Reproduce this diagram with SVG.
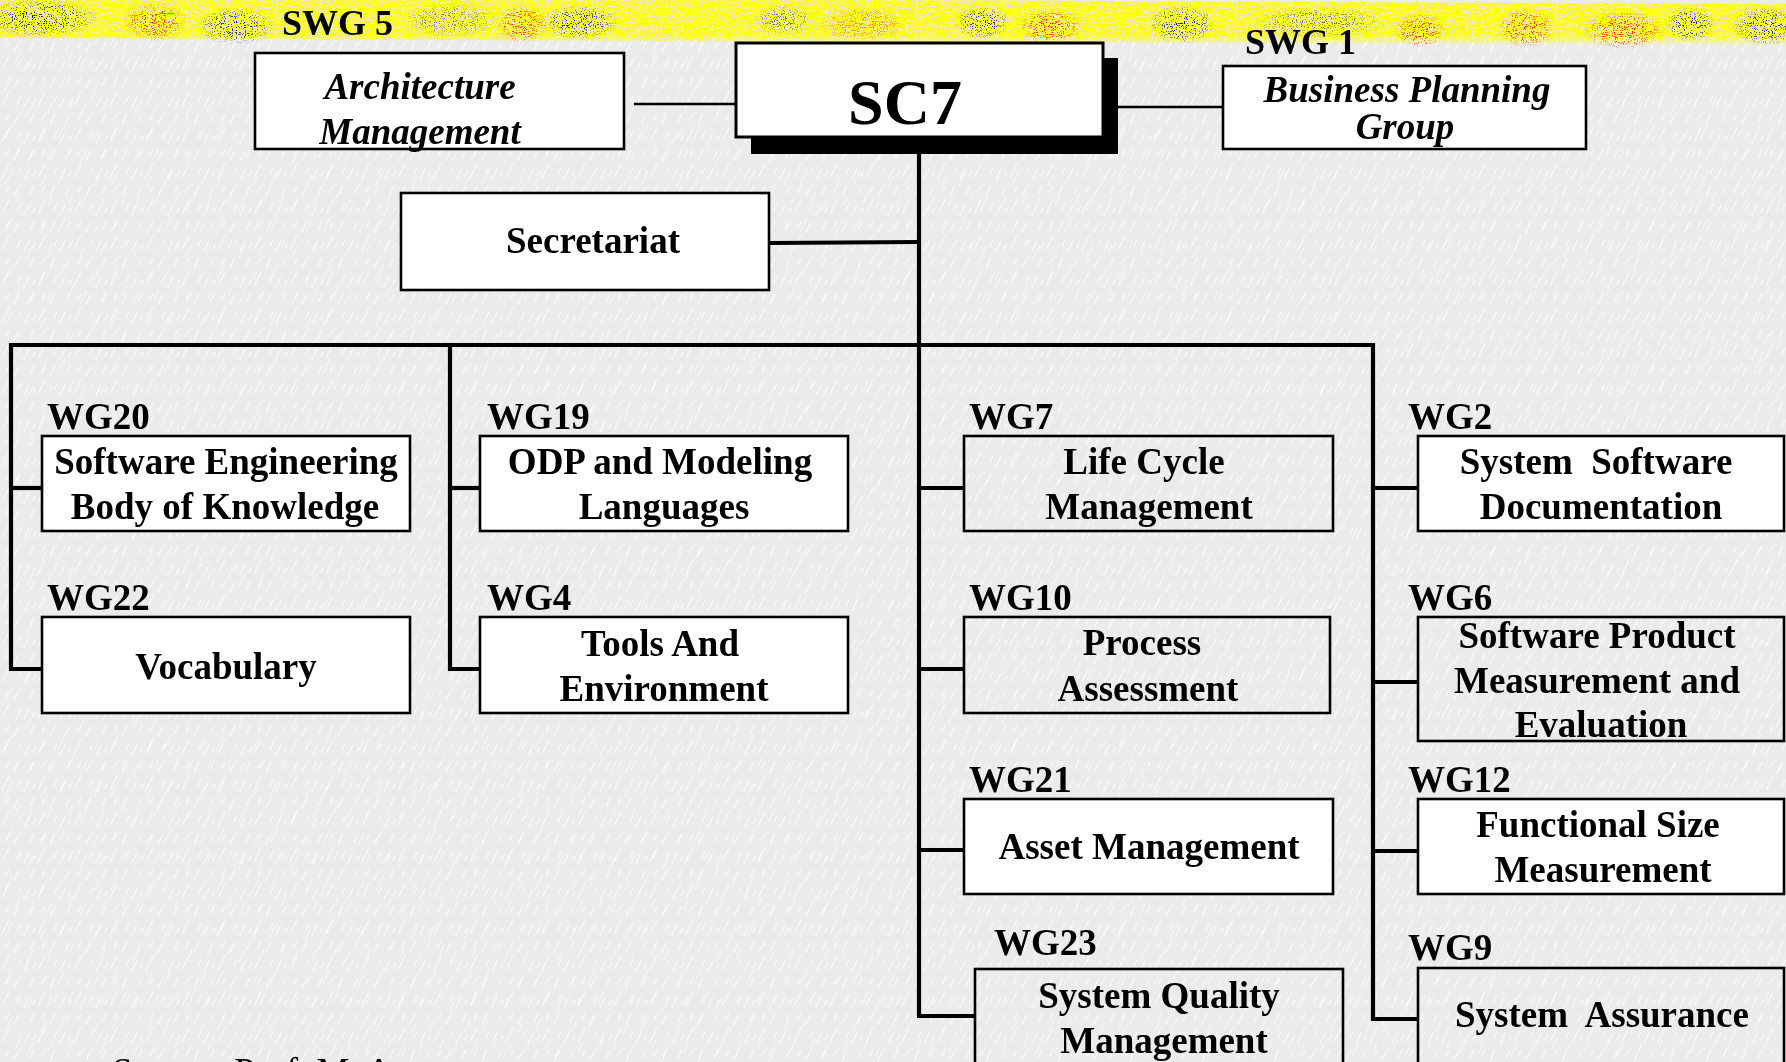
<svg xmlns="http://www.w3.org/2000/svg" width="1786" height="1062" viewBox="0 0 1786 1062">
<defs>
<style>
.box{fill:#fff;stroke:#000;stroke-width:2.6}
.boxc{fill:none;stroke:#000;stroke-width:2.6}
.t{font-family:"Liberation Serif","Times New Roman",serif;font-weight:bold;font-size:37px;fill:#000;text-anchor:middle}
.ti{font-family:"Liberation Serif","Times New Roman",serif;font-weight:bold;font-style:italic;font-size:37px;fill:#000;text-anchor:middle}
.lb{font-family:"Liberation Serif","Times New Roman",serif;font-weight:bold;font-size:37px;fill:#000}
.sw{font-family:"Liberation Serif","Times New Roman",serif;font-weight:bold;font-size:36px;fill:#000}
.pre{white-space:pre}
.c{stroke:#000;stroke-width:4.2;fill:none}
.thin{stroke:#000;stroke-width:2.6;fill:none}
</style>
<pattern id="bgtex" width="36" height="36" patternUnits="userSpaceOnUse">
<rect width="36" height="36" fill="#ebebeb"/>
<path d="M2 34 L9 20 M14 16 L19 6 M24 35 L29 25 M30 14 L34 6 M6 12 L9 6 M18 30 L21 24 M33 32 L35 28" stroke="#fff" stroke-width="1.1" stroke-linecap="round" opacity="0.75"/>
</pattern>
<pattern id="bgtex2" width="53" height="47" patternUnits="userSpaceOnUse">
<path d="M5 44 L12 30 M27 22 L33 10 M41 45 L46 35 M48 18 L52 9 M16 14 L20 5" stroke="#fff" stroke-width="1" stroke-linecap="round" opacity="0.6"/>
</pattern>
<linearGradient id="bandG" x1="0" y1="0" x2="0" y2="1">
<stop offset="0" stop-color="#ffff00" stop-opacity="0.7"/>
<stop offset="0.15" stop-color="#ffff00" stop-opacity="1"/>
<stop offset="0.78" stop-color="#ffff00" stop-opacity="1"/>
<stop offset="1" stop-color="#ffff00" stop-opacity="0"/>
</linearGradient>
<radialGradient id="blueG">
<stop offset="0" stop-color="#0000ff" stop-opacity="1"/>
<stop offset="0.6" stop-color="#0000ff" stop-opacity="0.7"/>
<stop offset="1" stop-color="#0000ff" stop-opacity="0"/>
</radialGradient>
<radialGradient id="redG">
<stop offset="0" stop-color="#ff0000" stop-opacity="1"/>
<stop offset="0.6" stop-color="#ff0000" stop-opacity="0.7"/>
<stop offset="1" stop-color="#ff0000" stop-opacity="0"/>
</radialGradient>
<filter id="grain" x="0" y="0" width="1" height="1">
<feTurbulence type="fractalNoise" baseFrequency="0.8" numOctaves="2" seed="4" result="n"/>
<feColorMatrix in="n" type="matrix" values="0 0 0 0 0  0 0 0 0 0  0 0 0 0 0  8 0 0 0 -2.9" result="m"/>
<feComposite in="SourceGraphic" in2="m" operator="in"/>
</filter>
<filter id="grain2" x="0" y="0" width="1" height="1">
<feTurbulence type="fractalNoise" baseFrequency="0.9" numOctaves="2" seed="11" result="n"/>
<feColorMatrix in="n" type="matrix" values="0 0 0 0 0  0 0 0 0 0  0 0 0 0 0  12 0 0 0 -7" result="m"/>
<feComposite in="SourceGraphic" in2="m" operator="in"/>
</filter>
</defs>

<rect width="1786" height="1062" fill="url(#bgtex)"/>
<rect width="1786" height="1062" fill="url(#bgtex2)"/>

<g id="band">
<path d="M0 -4 L1786 4 L1786 46 L0 38 Z" fill="url(#bandG)" filter="url(#grain)"/>
<g filter="url(#grain2)">
<ellipse cx="40" cy="18" rx="60" ry="20" fill="url(#blueG)"/>
<ellipse cx="155" cy="22" rx="32" ry="20" fill="url(#redG)"/>
<ellipse cx="236" cy="26" rx="40" ry="19" fill="url(#blueG)"/>
<ellipse cx="450" cy="20" rx="50" ry="18" fill="url(#blueG)" opacity="0.6"/>
<ellipse cx="522" cy="24" rx="26" ry="20" fill="url(#redG)"/>
<ellipse cx="580" cy="22" rx="40" ry="18" fill="url(#blueG)"/>
<ellipse cx="784" cy="20" rx="30" ry="16" fill="url(#blueG)" opacity="0.7"/>
<ellipse cx="862" cy="24" rx="46" ry="18" fill="url(#redG)" opacity="0.6"/>
<ellipse cx="982" cy="22" rx="28" ry="17" fill="url(#blueG)"/>
<ellipse cx="1050" cy="26" rx="34" ry="18" fill="url(#redG)"/>
<ellipse cx="1182" cy="24" rx="34" ry="20" fill="url(#blueG)"/>
<ellipse cx="1320" cy="22" rx="70" ry="17" fill="url(#blueG)" opacity="0.6"/>
<ellipse cx="1420" cy="30" rx="26" ry="18" fill="url(#redG)"/>
<ellipse cx="1526" cy="28" rx="30" ry="20" fill="url(#redG)"/>
<ellipse cx="1624" cy="30" rx="42" ry="20" fill="url(#redG)"/>
<ellipse cx="1690" cy="24" rx="26" ry="18" fill="url(#blueG)"/>
<ellipse cx="1765" cy="26" rx="34" ry="20" fill="url(#blueG)"/>
</g>
</g>

<g id="connectors">
<line class="thin" x1="634" y1="104" x2="736" y2="104"/>
<line class="thin" x1="1118" y1="107" x2="1223" y2="107"/>
<line class="c" x1="919" y1="150" x2="919" y2="1016"/>
<line class="c" x1="769" y1="243" x2="919" y2="242" stroke-width="4.6"/>
<line class="c" x1="9" y1="345" x2="1375" y2="345" stroke-width="4.6"/>
<path class="c" d="M11 343 V669 H42"/>
<line class="c" x1="11" y1="488" x2="42" y2="488"/>
<path class="c" d="M450 343 V669 H480"/>
<line class="c" x1="450" y1="488" x2="480" y2="488"/>
<line class="c" x1="917" y1="1016" x2="975" y2="1016"/>
<line class="c" x1="919" y1="488" x2="964" y2="488"/>
<line class="c" x1="919" y1="669" x2="964" y2="669"/>
<line class="c" x1="919" y1="850" x2="964" y2="850"/>
<path class="c" d="M1373 343 V1019 H1418"/>
<line class="c" x1="1373" y1="488" x2="1418" y2="488"/>
<line class="c" x1="1373" y1="682" x2="1418" y2="682"/>
<line class="c" x1="1373" y1="851" x2="1418" y2="851"/>
</g>

<g id="swg5">
<text class="sw" x="282" y="35">SWG 5</text>
<rect class="box" x="255" y="53" width="369" height="96"/>
<text class="ti" x="420" y="99">Architecture</text>
<text class="ti" x="420" y="144">Management</text>
</g>

<g id="sc7">
<rect x="751" y="58" width="367" height="96" fill="#000"/>
<rect x="736" y="43" width="367" height="94" fill="#fff" stroke="#000" stroke-width="3"/>
<text class="t" x="905" y="124" style="font-size:64px">SC7</text>
</g>

<g id="swg1">
<text class="sw" x="1245" y="54">SWG 1</text>
<rect class="box" x="1223" y="66" width="363" height="83"/>
<text class="ti" x="1407" y="102">Business Planning</text>
<text class="ti" x="1405" y="139">Group</text>
</g>

<g id="secretariat">
<rect class="box" x="401" y="193" width="368" height="97"/>
<text class="t" x="593" y="253">Secretariat</text>
</g>

<g id="wg20">
<text class="lb" x="47" y="429">WG20</text>
<rect class="box" x="42" y="436" width="368" height="95"/>
<text class="t" x="226" y="474">Software Engineering</text>
<text class="t" x="225" y="519">Body of Knowledge</text>
</g>

<g id="wg22">
<text class="lb" x="47" y="610">WG22</text>
<rect class="box" x="42" y="617" width="368" height="96"/>
<text class="t" x="226" y="679">Vocabulary</text>
</g>

<g id="wg19">
<text class="lb" x="487" y="429">WG19</text>
<rect class="box" x="480" y="436" width="368" height="95"/>
<text class="t" x="660" y="474">ODP and Modeling</text>
<text class="t" x="664" y="519">Languages</text>
</g>

<g id="wg4">
<text class="lb" x="487" y="610">WG4</text>
<rect class="box" x="480" y="617" width="368" height="96"/>
<text class="t" x="660" y="656">Tools And</text>
<text class="t" x="664" y="701">Environment</text>
</g>

<g id="wg7">
<text class="lb" x="969" y="429">WG7</text>
<rect class="boxc" x="964" y="436" width="369" height="95"/>
<text class="t" x="1144" y="474">Life Cycle</text>
<text class="t" x="1149" y="519">Management</text>
</g>

<g id="wg10">
<text class="lb" x="969" y="610">WG10</text>
<rect class="boxc" x="964" y="617" width="366" height="96"/>
<text class="t" x="1142" y="655">Process</text>
<text class="t" x="1148" y="701">Assessment</text>
</g>

<g id="wg21">
<text class="lb" x="969" y="792">WG21</text>
<rect class="box" x="964" y="799" width="369" height="95"/>
<text class="t" x="1149" y="859">Asset Management</text>
</g>

<g id="wg23">
<text class="lb" x="994" y="955">WG23</text>
<rect class="boxc" x="975" y="969" width="368" height="120"/>
<text class="t" x="1159" y="1008">System Quality</text>
<text class="t" x="1164" y="1053">Management</text>
</g>

<g id="wg2">
<text class="lb" x="1408" y="429">WG2</text>
<rect class="box" x="1418" y="436" width="366" height="95"/>
<text class="t pre" x="1596" y="474">System  Software</text>
<text class="t" x="1601" y="519">Documentation</text>
</g>

<g id="wg6">
<text class="lb" x="1408" y="610">WG6</text>
<rect class="boxc" x="1418" y="617" width="366" height="124"/>
<text class="t" x="1597" y="648">Software Product</text>
<text class="t" x="1597" y="693">Measurement and</text>
<text class="t" x="1601" y="737">Evaluation</text>
</g>

<g id="wg12">
<text class="lb" x="1408" y="792">WG12</text>
<rect class="box" x="1418" y="799" width="366" height="95"/>
<text class="t" x="1598" y="837">Functional Size</text>
<text class="t" x="1603" y="882">Measurement</text>
</g>

<g id="wg9">
<text class="lb" x="1408" y="960">WG9</text>
<rect class="boxc" x="1418" y="968" width="366" height="120"/>
<text class="t pre" x="1602" y="1027">System  Assurance</text>
</g>

<text x="112" y="1084" style="font-family:'Liberation Serif','Times New Roman',serif;font-size:37px;fill:#000">Source: Prof. M. Azuma</text>
</svg>
